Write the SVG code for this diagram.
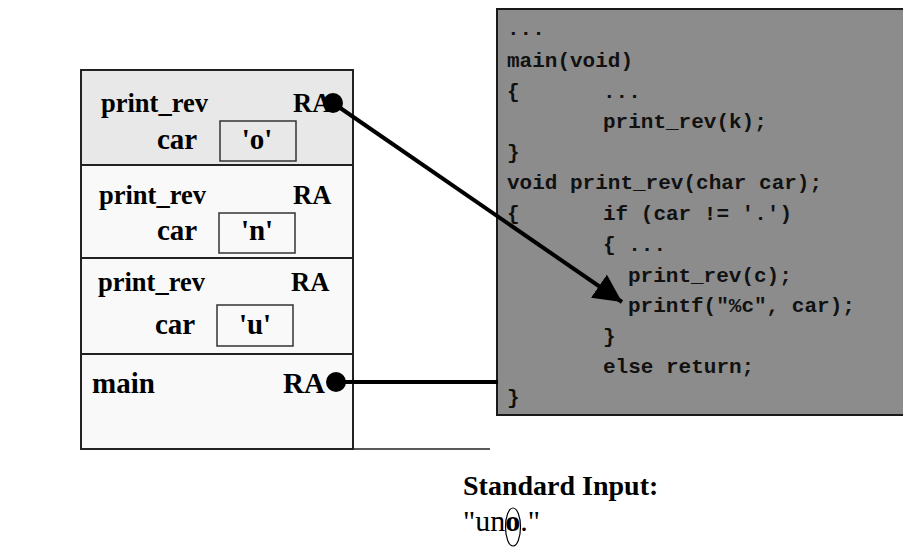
<svg xmlns="http://www.w3.org/2000/svg" width="903" height="549" viewBox="0 0 903 549">
<defs>
<style>
.frame{stroke:#222;stroke-width:2}
.f1{fill:#e8e8e8}
.f2{fill:#f9f9f9}
.lbl{font-family:"Liberation Serif","Times New Roman",serif;font-weight:bold;font-size:26.5px;fill:#000}
.big{font-family:"Liberation Serif","Times New Roman",serif;font-weight:bold;font-size:29px;fill:#000}
.vbox{fill:none;stroke:#333;stroke-width:1.5}
.code{font-family:"Liberation Mono","Courier New",monospace;font-weight:bold;font-size:21px;fill:#111}
.conn{stroke:#000;stroke-width:4;fill:none}
</style>
<marker id="arr" markerUnits="userSpaceOnUse" markerWidth="32" markerHeight="28" refX="28" refY="14" orient="auto">
<path d="M0,0 L28,14 L0,28 Z" fill="#000"/>
</marker>
</defs>

<g id="baseline">
<line x1="233" y1="449" x2="490" y2="449" stroke="#222" stroke-width="1.5"/>
</g>

<g id="frame-print-rev-o">
<rect class="frame f1" x="81" y="70" width="272" height="95"/>
<text class="lbl" x="101" y="112">print_rev</text>
<text class="lbl" x="293" y="112">RA</text>
<text class="big" x="157" y="149">car</text>
<rect class="vbox" x="220" y="121" width="76" height="40"/>
<text class="big" x="257" y="149" text-anchor="middle">'o'</text>
</g>

<g id="frame-print-rev-n">
<rect class="frame f2" x="81" y="165" width="272" height="93"/>
<text class="lbl" x="99" y="204">print_rev</text>
<text class="lbl" x="293" y="204">RA</text>
<text class="big" x="157" y="240">car</text>
<rect class="vbox" x="219" y="213" width="76" height="40"/>
<text class="big" x="257" y="240" text-anchor="middle">'n'</text>
</g>

<g id="frame-print-rev-u">
<rect class="frame f2" x="81" y="258" width="272" height="96"/>
<text class="lbl" x="98" y="291">print_rev</text>
<text class="lbl" x="291" y="291">RA</text>
<text class="big" x="155" y="334">car</text>
<rect class="vbox" x="217" y="305" width="76" height="41"/>
<text class="big" x="255" y="334" text-anchor="middle">'u'</text>
</g>

<g id="frame-main">
<rect class="frame f2" x="81" y="354" width="272" height="95"/>
<text class="big" x="92" y="393">main</text>
<text class="big" x="283" y="393">RA</text>
</g>

<g id="code">
<rect x="497" y="9" width="420" height="406" fill="#8c8c8c" stroke="#1a1a1a" stroke-width="2"/>
<text class="code" x="507" y="35">...</text>
<text class="code" x="507" y="67">main(void)</text>
<text class="code" x="507" y="98">{</text>
<text class="code" x="603" y="98">...</text>
<text class="code" x="603" y="128">print_rev(k);</text>
<text class="code" x="507" y="159">}</text>
<text class="code" x="507" y="189">void print_rev(char car);</text>
<text class="code" x="507" y="220">{</text>
<text class="code" x="603" y="220">if (car != '.')</text>
<text class="code" x="603" y="251">{ ...</text>
<text class="code" x="628" y="282">print_rev(c);</text>
<text class="code" x="628" y="312">printf("%c", car);</text>
<text class="code" x="603" y="343">}</text>
<text class="code" x="603" y="373">else return;</text>
<text class="code" x="507" y="404">}</text>
</g>

<g id="connectors">
<line class="conn" x1="333" y1="103" x2="622" y2="302" marker-end="url(#arr)"/>
<circle cx="333" cy="103" r="10" fill="#000"/>
<line class="conn" x1="336" y1="382" x2="498" y2="382" stroke-width="3.5"/>
<circle cx="336" cy="382" r="10" fill="#000"/>
</g>

<g id="stdin">
<text x="463" y="495" font-family="'Liberation Serif','Times New Roman',serif" font-weight="bold" font-size="28" fill="#000">Standard Input:</text>
<text x="463" y="531" font-family="'Liberation Serif','Times New Roman',serif" font-size="30" fill="#000">"un<tspan font-weight="bold">o</tspan>."</text>
<ellipse cx="513" cy="527" rx="7.5" ry="19" fill="none" stroke="#000" stroke-width="1.2"/>
</g>
</svg>
